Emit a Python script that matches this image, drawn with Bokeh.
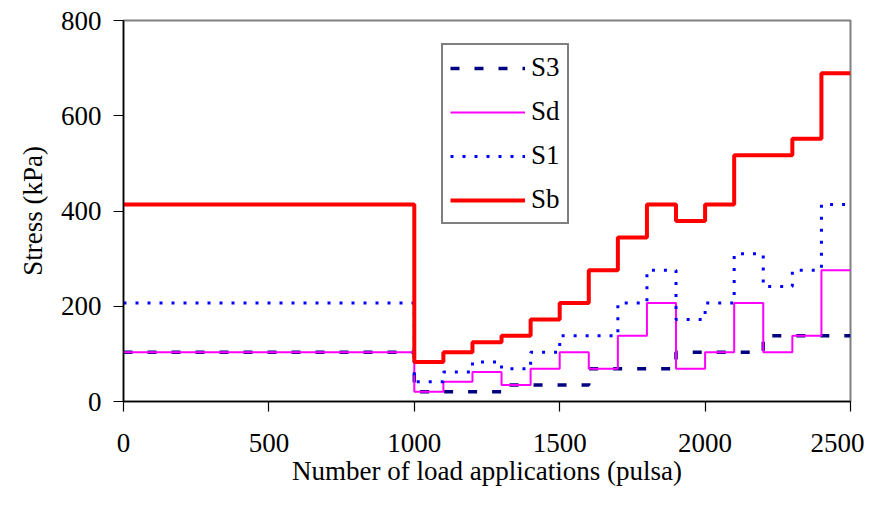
from bokeh.plotting import figure
from bokeh.models import FixedTicker, Range1d, Legend, LegendItem
from bokeh.embed import file_html
from bokeh.resources import INLINE

# Sequence boundaries (number of load applications)
bounds = [0, 1000, 1100, 1200, 1300, 1400, 1500, 1600, 1700, 1800, 1900,
          2000, 2100, 2200, 2300, 2400, 2500]
# Stress per sequence (kPa)
s3 = [103.4, 20.7, 20.7, 20.7, 34.5, 34.5, 34.5, 68.9, 68.9, 68.9,
      103.4, 103.4, 103.4, 137.9, 137.9, 137.9]
sd = [103.4, 20.7, 41.4, 62.1, 34.5, 68.9, 103.4, 68.9, 137.9, 206.8,
      68.9, 103.4, 206.8, 103.4, 137.9, 275.8]
s1 = [206.8, 41.4, 62.1, 82.8, 69.0, 103.4, 137.9, 137.8, 206.8, 275.7,
      172.3, 206.8, 310.2, 241.3, 275.8, 413.7]
sb = [413.6, 82.8, 103.5, 124.2, 138.0, 172.4, 206.9, 275.6, 344.6, 413.5,
      379.1, 413.6, 517.0, 517.1, 551.6, 689.5]

x_ticks = [0, 500, 1000, 1500, 2000, 2500]
y_ticks = [0, 200, 400, 600, 800]

FONT = "Liberation Serif"

p = figure(width=864, height=496, output_backend="svg", toolbar_location=None,
           x_range=Range1d(0, 2500), y_range=Range1d(0, 800),
           min_border_left=123, min_border_top=20, min_border_right=14,
           min_border_bottom=95)
p.background_fill_color = "white"
p.border_fill_color = "white"
p.outline_line_color = "#808080"
p.outline_line_width = 2
p.xgrid.visible = False
p.ygrid.visible = False

for ax in (p.xaxis[0], p.yaxis[0]):
    ax.axis_line_color = "black"
    ax.axis_line_width = 1.5
    ax.major_tick_line_color = "black"
    ax.major_tick_line_width = 1.2
    ax.major_tick_in = 0
    ax.major_tick_out = 10
    ax.minor_tick_line_color = None
    ax.major_label_text_font = FONT
    ax.major_label_text_font_size = "27px"
    ax.major_label_text_color = "black"
    ax.axis_label_text_font = FONT
    ax.axis_label_text_font_size = "27px"
    ax.axis_label_text_font_style = "normal"
    ax.axis_label_text_color = "black"

p.xaxis[0].ticker = FixedTicker(ticks=x_ticks)
p.yaxis[0].ticker = FixedTicker(ticks=y_ticks)
p.xaxis[0].axis_label = "Number of load applications (pulsa)"
p.yaxis[0].axis_label = "Stress (kPa)"
p.xaxis[0].major_label_standoff = 22
p.xaxis[0].axis_label_standoff = 1
p.yaxis[0].major_label_standoff = 12
p.yaxis[0].axis_label_standoff = 10


def ext(v):
    return v + [v[-1]]

r_s3 = p.step(bounds, ext(s3), mode="after", line_color="#000080",
              line_width=3.5, line_dash="9 15")
r_sd = p.step(bounds, ext(sd), mode="after", line_color="#FF00FF",
              line_width=2)
r_s1 = p.step(bounds, ext(s1), mode="after", line_color="#0000FF",
              line_width=3, line_dash="3 9")
r_sb = p.step(bounds, ext(sb), mode="after", line_color="#FF0000",
              line_width=4)

legend = Legend(items=[
    LegendItem(label="S3", renderers=[r_s3]),
    LegendItem(label="Sd", renderers=[r_sd]),
    LegendItem(label="S1", renderers=[r_s1]),
    LegendItem(label="Sb", renderers=[r_sb]),
], location=(318, 177))
legend.margin = 0
legend.padding = 7
legend.spacing = 13
legend.glyph_width = 75
legend.glyph_height = 30
legend.label_height = 30
legend.label_standoff = 6
legend.label_text_font = FONT
legend.label_text_font_size = "27px"
legend.label_text_color = "black"
legend.border_line_color = "black"
legend.border_line_width = 2
legend.background_fill_color = "white"
legend.background_fill_alpha = 1
p.add_layout(legend, "center")

open("out.html", "w").write(file_html(p, INLINE))
